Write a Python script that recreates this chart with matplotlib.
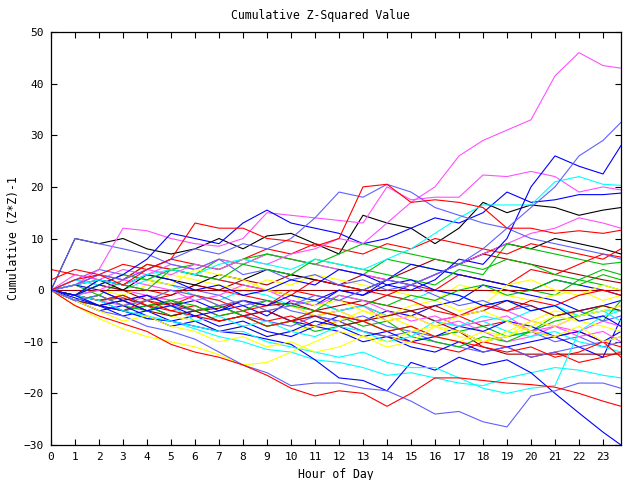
import matplotlib
matplotlib.use("Agg")
import matplotlib.pyplot as plt

# sample times (hour of day)
hours = [0, 1, 2, 3, 4, 5, 6, 7, 8, 9, 10, 11, 12, 13, 14, 15, 16, 17, 18, 19, 20, 21, 22, 23, 23.75]

# colours used by the old gnuplot terminal
R, G, B, M, C = "#ff0000", "#00c000", "#0000ff", "#ff50ff", "#00ffff"
DR, Y, LB, K = "#a00000", "#ffff00", "#6060ff", "#000000"

# cumulative (z*z)-1 per day
mag_top   = [0, 1, 3, 2, 4, 3, 5, 4, 6, 5, 7, 8, 10, 9, 13, 17, 20, 26, 29, 31, 33, 41.5, 46, 43.5, 43]
lb_top    = [0, -2, -1, -3, -2, 0, -1, -3, -2, -4, -3, -1, -2, 0, 2, 1, 3, 5, 8, 12, 16, 20, 26, 29, 32.5]
blue_top  = [0, -1, -3, -2, -4, -3, -5, -4, -2, -3, -1, -2, 0, -1, 1, 0, 2, 6, 5, 10, 20, 26, 24, 22.5, 28]
black_top = [0, 10, 9, 10, 8, 7, 8, 10, 8, 10.5, 11, 9, 7, 14.5, 13, 12, 9, 12, 17, 15, 16.5, 16, 14.5, 15.5, 16]
red_peak  = [0, 2, 3, 1, 4, 6, 13, 12, 12, 10, 9.5, 8.5, 10, 20, 20.5, 17, 17.5, 17, 16, 12, 12, 11, 11.5, 11, 11.6]
mag_2     = [0, 1, 4, 12, 11.5, 10, 9, 8.5, 10, 15, 14.5, 14, 13.5, 13, 20, 17.5, 18, 18, 22.3, 22, 23, 22, 19, 20, 19.4]
blue_2    = [0, -1, 1, 3, 6, 11, 10, 9, 13, 15.5, 13, 12, 11, 9, 10, 12, 14, 13, 15, 19, 17, 17.5, 18.5, 18.5, 18.8]
lb_early  = [0, 10, 9, 8, 7, 5, 4, 6, 3, 4, 2, 3, 1, 2, 0, 1, -1, -3, -2, -4, -3, -5, -4, -6, -5]
blue_low  = [0, -1.5, -3, -4, -5.5, -6, -7, -8, -8.5, -9.5, -10.5, -13.5, -17, -17.5, -19.5, -14, -15.5, -13, -14.5, -13.5, -16, -20, -23.8, -27.5, -30]
lb_low    = [0, -2, -4, -5, -7, -8, -9.5, -12, -14.5, -16, -18.5, -18, -18, -19, -19.5, -21.5, -24, -23.5, -25.5, -26.5, -20.5, -19.5, -18, -18, -19]
red_low   = [0, -3, -5, -6.5, -8, -10.5, -12, -13, -14.5, -16.5, -19, -20.5, -19.5, -20, -22.5, -20, -17, -17, -17.5, -18, -18.3, -18.8, -20, -21.5, -22.5]
cyan_low  = [0, -2, -3, -4, -5.5, -6, -7.5, -9, -10, -11.5, -12, -13.5, -14, -15, -16.5, -16, -17, -18, -18.5, -17, -16, -15, -15.5, -16.5, -17]
cyan_jump = [0, -1, -2, -4, -5, -6, -7, -8, -8, -10, -11, -12, -13, -12, -14, -15, -15, -17, -19, -20, -19, -18.5, -8, -5, -4]
yel_low   = [0, -3, -5.5, -7.5, -9, -10, -11, -12.5, -14.5, -14, -12, -10, -8, -9, -11, -10, -7, -5, -4, -6, -8, -9, -7, -10, -9]
dr_zero   = [0, 0, 0, 0, 0, 0, 0, 0, 0, 0, 0, 0, 0, 0, 0, 0, 0, 0, 0, 0, 0, 0, 0, 0, 0]
dr_flat   = [0, -1, -2, -1.5, -3, -2.5, -4, -3.5, -2, -3, -2.5, -4, -3, -2, -3, -4, -6, -8, -11, -12.4, -12.4, -12.4, -12.4, -12.4, -12.4]
green_1   = [0, -1, 2, 1, 0, 4, 3, 2, 5, 4, 3, 6, 5, 4, 3, 2, 1, 4, 3, 9, 8, 7, 6, 5, 5.4]
green_2   = [0, -2, -3, -4, -3, -5, -4, -6, -5, -7, -6, -8, -7, -6, -8, -7, -9, -8, -7, -9, -8, -5, -4, -6, -2]
green_3   = [0, 1, -1, 2, 5, 4, 3, 6, 5, 7, 6, 5, 4, 3, 6, 5, 4, 3, 2, 1, 0, -1, 2, 1, 0]
green_4   = [0, -1, -2, -1, -3, -2, -4, -3, -5, -7, -6, -4, -5, -7, -6, -9, -10, -11, -9, -10, -8, -6, -5, -3, -4]
green_6   = [0, -2, -1, -3, -4, -2, -3, -5, -4, -2, -3, -4, -1, -2, -3, -1, -2, 0, 1, -1, 0, 2, 1, 3, 2]
yel_1     = [0, -2, -1, -3, -2, 0, -1, -3, -2, -4, -3, -5, -4, -6, -5, -7, -9, -10, -8, -9, -6, -4, -5, -3, -4]
yel_2     = [0, 1, 0, -1, 1, 3, 2, 1, 0, 2, 1, 3, 2, 1, 0, -1, -2, 1, 0, -1, -2, -1, 0, -2, -1]
yel_3     = [0, -1, -3, -2, -4, -5, -6, -8, -7, -9, -8, -7, -6, -4, -5, -3, -2, -4, -3, 1, 2, 0, -1, 1, 0]
yel_5     = [0, -1, 1, 3, 2, 1, 4, 3, 2, 0, -1, -3, -2, -4, -6, -5, -7, -8, -10, -9, -7, -5, -6, -7, -8]
cyan_top  = [0, 1, 2, 1, 3, 4, 3, 5, 6, 5, 4, 6, 5, 4, 6, 8, 11, 14, 16.5, 16.5, 16.5, 21, 22, 20.5, 20.3]
cyan_2    = [0, -1, 1, 0, 2, 1, -1, -2, 0, -1, -3, -2, -4, -3, -1, -2, 0, -1, -3, -2, -4, -3, -5, -4, -4]
cyan_3    = [0, 2, 1, 3, 2, 4, 3, 2, 1, 0, -1, -2, -4, -3, -5, -4, -6, -7, -6, -8, -9, -8, -10, -11, -12]
cyan_4    = [0, -1, -3, -2, -4, -3, -6, -5, -7, -6, -8, -9, -7, -8, -10, -9, -6, -7, -5, -6, -4, -3, -5, -4, -6]
mag_3     = [0, -1, -2, -3, -1, -2, -4, -3, -5, -4, -6, -5, -4, -3, -6, -5, -7, -6, -8, -10, -9, -7, -8, -6, -7]
mag_4     = [0, 2, 1, 0, -1, -2, -1, -3, -2, -4, -3, -5, -4, -6, -5, -4, -6, -5, -3, -4, -6, -7, -5, -4, -3]
mag_5     = [0, 3, 2, 4, 3, 5, 4, 6, 5, 7, 6, 5, 4, 3, 2, 1, 3, 5, 7, 9, 11, 12, 14, 13, 12]
mag_6     = [0, -1, 0, 2, 1, 0, -2, -1, 1, 0, -2, -3, -1, -2, -4, -6, -5, -7, -6, -5, -8, -7, -9, -8, -10]
red_1     = [4, 3, 2, 1, 0, -1, 1, 0, -1, -2, -3, -2, -4, -3, -5, -4, -6, -5, -7, -6, -8, -9, -8, -10, -11]
red_2     = [0, -2, -1, -3, -2, -4, -3, -5, -4, -6, -5, -7, -6, -8, -9, -10, -11, -12, -10, -11, -13, -12, -14, -13, -12]
red_3     = [0, 1, 3, 2, 5, 4, 3, 2, 1, 0, -1, 2, 1, 0, -1, 1, 0, 3, 2, 1, 4, 3, 5, 7, 6.4]
red_4     = [0, -1, -2, -1, -3, -4, -5, -6, -5, -7, -6, -4, -5, -6, -8, -7, -9, -10, -11, -12, -11, -13, -12, -10, -13]
red_5     = [0, -1, -3, -4, -2, -3, -1, -2, -4, -3, 0, -1, -2, -3, -1, -2, -4, -5, -3, -4, -2, -3, -1, 0, -1]
red_6     = [2, 4, 3, 5, 4, 6, 5, 4, 6, 8, 7, 9, 8, 7, 9, 8, 10, 9, 8, 7, 9, 8, 7, 6, 8]
blue_3    = [0, -2, -3, -5, -4, -6, -5, -7, -6, -8, -9, -7, -8, -10, -9, -11, -12, -10, -12, -11, -10, -9, -11, -13, -5.5]
blue_4    = [0, -1, -2, -4, -3, -5, -4, -3, -5, -4, -6, -7, -5, -6, -4, -5, -3, -2, 1, 0, -1, -2, -4, -3, -2]
blue_5    = [0, 1, 0, -2, -1, -3, -2, -4, -3, -5, -2, -3, 0, -1, 2, 5, 4, 3, 2, 1, 0, 2, 1, 0, -1]
blue_6    = [0, -2, -4, -3, -5, -7, -6, -8, -7, -9, -8, -6, -7, -9, -8, -10, -9, -7, -8, -6, -7, -9, -8, -10, -8]
blue_7    = [0, -1, 2, 1, 3, 2, 0, 1, -1, 0, 2, 1, 4, 3, 1, 2, 0, -1, -3, -2, -4, -3, -6, -5, -7]
lb_1      = [0, -1, 0, -2, -1, -3, -4, -3, -5, -6, -7, -5, -6, -8, -9, -8, -10, -11, -12, -11, -13, -12, -11, -10, -9]
lb_2      = [0, 2, 4, 3, 2, 1, 0, -1, -3, -2, -4, -5, -6, -5, -7, -8, -9, -8, -10, -9, -8, -10, -9, -11, -10]
lb_3      = [0, 1, 3, 2, 4, 6, 8, 7, 9, 8, 10, 14, 19, 18, 20.5, 19, 16, 14.5, 13, 12, 10, 9, 8, 7, 6]
black_2   = [0, 1, 2, 0, 3, 2, 1, 3, 2, 4, 3, 2, 1, 0, 2, 1, 3, 5, 7, 9, 8, 10, 9, 8, 7]
green_5   = [0, -1, 1, 3, 2, 4, 5, 4, 6, 7, 6, 5, 7, 9, 8, 7, 6, 5, 4, 6, 5, 3, 2, 4, 3]
dr_2      = [0, -1, 1, 0, -2, -1, 1, 0, 2, 1, 3, 2, 1, 3, 2, 4, 6, 5, 7, 6, 5, 4, 3, 2, 1.4]
dr_3      = [0, -2, -3, -2, -4, -5, -4, -6, -5, -4, -6, -5, -7, -6, -5, -4, -3, -5, -4, -2, -3, -5, -4, -3, -4]
yel_4     = [0, -2, -4, -6, -5, -7, -8, -10, -9, -11, -10, -12, -11, -9, -10, -8, -7, -9, -10, -8, -6, -7, -5, -4, -3]

series = [
    (red_1, R), (green_3, G), (blue_4, B), (mag_4, M), (cyan_2, C), (dr_2, DR), (yel_2, Y), (lb_2, LB), (black_2, K),
    (red_2, R), (green_2, G), (blue_3, B), (mag_3, M), (cyan_3, C), (dr_flat, DR), (yel_1, Y), (lb_1, LB), (black_top, K),
    (red_3, R), (green_4, G), (blue_5, B), (mag_5, M), (cyan_low, C), (dr_zero, DR), (yel_3, Y), (lb_early, LB),
    (red_5, R), (green_6, G), (blue_6, B), (mag_6, M), (cyan_4, C), (dr_3, DR), (yel_5, Y),
    (red_4, R), (green_1, G), (blue_low, B), (mag_2, M), (cyan_jump, C), (yel_low, Y), (lb_low, LB),
    (red_6, R), (blue_7, B),
    (red_low, R), (green_5, G), (blue_2, B), (mag_top, M), (cyan_top, C), (yel_4, Y), (lb_3, LB),
    (red_peak, R), (blue_top, B), (lb_top, LB),
]

plt.rcParams["font.family"] = "DejaVu Sans Mono"
plt.rcParams["font.size"] = 8

fig = plt.figure(figsize=(6.4, 4.8), dpi=100)
ax = fig.add_axes([0.0797, 0.0729, 0.8906, 0.8604])

for vals, col in series:
    ax.plot(hours, vals, color=col, lw=0.8)

ax.set_xlim(0, 23.75)
ax.set_ylim(-30, 50)
ax.set_xticks(range(24))
ax.set_yticks(range(-30, 51, 10))
ax.tick_params(direction="in", length=4.5, width=0.8, top=True, right=True, labelsize=8, pad=5)
for sp in ax.spines.values():
    sp.set_linewidth(0.9)

fig.text(0.5, 0.968, "Cumulative Z-Squared Value", ha="center", va="center", fontsize=8.3)
ax.set_xlabel("Hour of Day", fontsize=8.3, labelpad=4)
ax.set_ylabel("Cumulative (Z*Z)-1", fontsize=8.3, labelpad=3)

fig.savefig("out.png", dpi=100)
